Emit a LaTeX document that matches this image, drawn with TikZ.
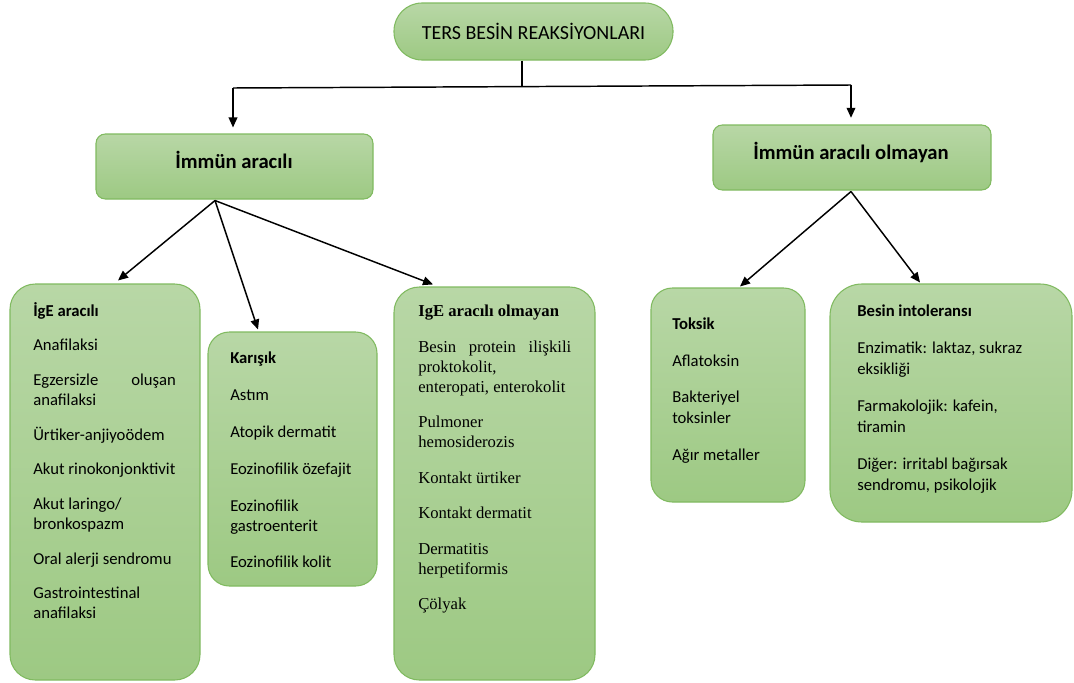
\documentclass[tikz,border=0pt]{standalone}
\usepackage{fontspec}
\setmainfont{Carlito}
\newfontfamily\tnr{Liberation Serif}
\usetikzlibrary{arrows.meta,calc,positioning}
\definecolor{gtop}{RGB}{184,215,166}
\definecolor{gbot}{RGB}{157,201,131}
\definecolor{gline}{RGB}{128,186,96}
\tikzset{
  bx/.style={draw=gline,line width=.8pt,top color=gtop,bottom color=gbot,inner sep=0pt},
  hd/.style={font=\fontsize{15.5}{18}\selectfont\bfseries,inner sep=0pt},
  tx/.style={anchor=north west,align=left,inner sep=0pt,font=\fontsize{12.5}{15}\selectfont},
  lnk/.style={draw=black,line width=1.1pt},
  arr/.style={-{Triangle[length=7.5pt,width=6.5pt]},line width=1.1pt,draw=black},
}
% justified line and gap between items
\newcommand\jst[2]{\makebox[#1][s]{#2}}
\newcommand\gp{\\[11pt]}

\begin{document}
\begin{tikzpicture}[x=.75pt,y=-.75pt]
\useasboundingbox (0,0) rectangle (1074,682);
% boxes
\node[bx,rounded corners=21pt,minimum width=209.25pt,minimum height=42.75pt,
  font=\fontsize{15}{18}\selectfont] (top) at (533.5,31.5) {TERS BESİN REAKSİYONLARI};
\node[bx,rounded corners=7pt,minimum width=207.75pt,minimum height=48.75pt] (imm) at (234.5,166.5) {};
\node[hd] (imm-t) at (234,160) {İmmün aracılı};
\node[bx,rounded corners=7pt,minimum width=208.5pt,minimum height=48.75pt] (nim) at (852,157.5) {};
\node[hd] (nim-t) at (851,152) {İmmün aracılı olmayan};
\node[bx,rounded corners=19pt,minimum width=142.5pt,minimum height=297pt] (ige) at (105,482) {};
\node[bx,rounded corners=16pt,minimum width=126.75pt,minimum height=190.5pt] (kar) at (292.5,459) {};
\node[bx,rounded corners=19pt,minimum width=150.75pt,minimum height=294.75pt] (nige) at (494.5,483.5) {};
\node[bx,rounded corners=16pt,minimum width=115.5pt,minimum height=160.5pt] (tok) at (728,395) {};
\node[bx,rounded corners=24pt,minimum width=181.5pt,minimum height=178.5pt] (bint) at (951,403) {};
% texts
\node[tx] (ige-t) at (33,302) {\textbf{İgE aracılı}\gp Anafilaksi\gp
  \jst{107pt}{Egzersizle oluşan}\\ anafilaksi\gp Ürtiker-anjiyoödem\gp
  Akut rinokonjonktivit\gp Akut laringo/\\ bronkospazm\gp
  Oral alerji sendromu\gp Gastrointestinal\\ anafilaksi};
\node[tx] (kar-t) at (230,352) {\textbf{Karışık}\\[12.6pt] Astım\\[12.6pt] Atopik dermatit\\[12.6pt]
  Eozinofilik özefajit\\[12.6pt] Eozinofilik\\ gastroenterit\\[12.6pt] Eozinofilik kolit};
\node[tx,font=\fontsize{12.5}{15}\tnr] (nige-t) at (418,305) {\textbf{IgE aracılı olmayan}\\[11.6pt]
  \jst{114.75pt}{Besin protein ilişkili}\\ proktokolit,\\ enteropati, enterokolit\\[11.6pt]
  Pulmoner\\ hemosiderozis\\[11.6pt] Kontakt ürtiker\\[11.6pt] Kontakt dermatit\\[11.6pt]
  Dermatitis\\ herpetiformis\\[11.6pt] Çölyak};
\node[tx,font=\fontsize{12.5}{15.75}\selectfont] (tok-t) at (672,318) {\textbf{Toksik}\\[11.6pt] Aflatoksin\\[11.6pt]
  Bakteriyel\\ toksinler\\[11.6pt] Ağır metaller};
\node[tx,font=\fontsize{12.5}{15.75}\selectfont] (bint-t) at (857,305) {\textbf{Besin intoleransı}\\[11.8pt]
  Enzimatik: laktaz, sukraz\\ eksikliği\\[11.8pt] Farmakolojik: kafein,\\ tiramin\\[11.8pt]
  Diğer: irritabl bağırsak\\ sendromu, psikolojik};
% connectors
\coordinate (j) at (522,87);
\coordinate (jl) at (233,88);
\coordinate (jr) at (851,85);
\draw[lnk] (top.south -| j) -- (j);
\draw[lnk] (jl) -- (jr);
\draw[arr,shorten >=4.5pt] (jl) -- (imm.north -| jl);
\draw[arr,shorten >=5pt] (jr) -- (nim.north -| jr);
\coordinate (ib) at ($(imm.south)+(-19.5,1)$);
\coordinate (nb) at ($(nim.south)+(-1,1)$);
\draw[arr] (ib) -- ($(ige.north)+(13,-3)$);
\draw[arr] (ib) -- ($(kar.north)+(-34.5,-2)$);
\draw[arr] (ib) -- ($(nige.north)+(-61.5,-2)$);
\draw[arr] (nb) -- ($(tok.north)+(12,-1)$);
\draw[arr] (nb) -- ($(bint.north)+(-31,-1)$);
\end{tikzpicture}
\end{document}
